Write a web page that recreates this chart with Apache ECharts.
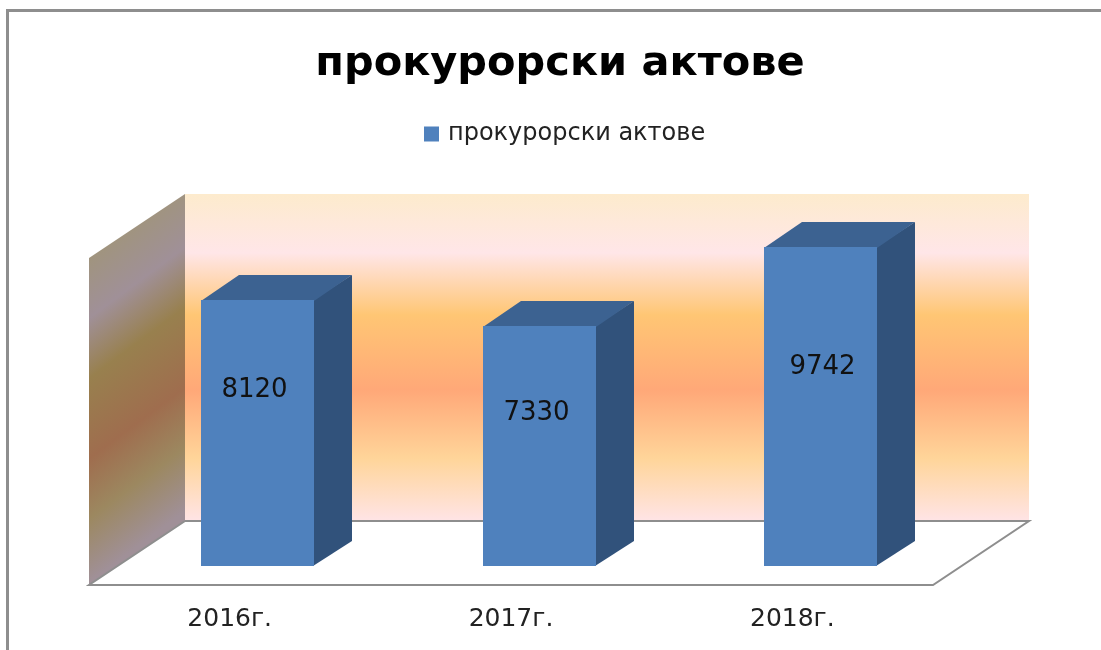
<!DOCTYPE html>
<html><head><meta charset="utf-8">
<style>html,body{margin:0;padding:0;background:#fff}#c{width:1101px;height:650px}</style>
<script src="https://cdn.jsdelivr.net/npm/echarts@6/dist/echarts.min.js"></script>
</head><body><div id="c"></div>
<script>
const titleText = 'прокурорски актове';
const seriesName = 'прокурорски актове';
const categories = ['2016г.', '2017г.', '2018г.'];
const values = [8120, 7330, 9742];

// layout of the 3D box (not data)
const wallDepth = [96, -64], barDepth = [38, -25], barShift = [28, -19], barRatio = 0.4;
const labelNudge = [[-3, -43], [-3, -33], [2, -39]];
const wallStops = [0, .18, .37, .6, .81, 1];
const wallColors = ['#FDEBCD', '#FFE6E8', '#FFC674', '#FFA878', '#FFD59A', '#FFE4E6'];
const sideStops = [0, .18, .36, .6, .78, .97];
const sideColors = ['#A0947E', '#A09098', '#98804E', '#9F6D4E', '#9C8860', '#A09098'];
const stops = (cs, at) => cs.map((color, i) => ({offset: at[i], color}));

const chart = echarts.init(document.getElementById('c'), null, {renderer: 'canvas'});

function renderWalls(params) {
  const r = params.coordSys;
  const [dx, dy] = wallDepth;
  const L = r.x, R = r.x + r.width, T = r.y, B = r.y + r.height;
  const line = {stroke: '#8E8E8E', lineWidth: 2, fill: null};
  return {type: 'group', silent: true, children: [
    {type: 'rect', shape: {x: L + dx, y: T + dy, width: r.width, height: r.height},
     style: {fill: new echarts.graphic.LinearGradient(0, 0, 0, 1, stops(wallColors, wallStops))}},
    {type: 'polygon', shape: {points: [[L, T], [L + dx, T + dy], [L + dx, B + dy], [L, B]]},
     style: {fill: new echarts.graphic.LinearGradient(L, T, L + 160, T + 216, stops(sideColors, sideStops), true)}},
    {type: 'polygon', shape: {points: [[L, B], [L + dx, B + dy], [R + dx, B + dy], [R, B]]},
     style: {fill: '#fff'}},
    {type: 'polyline', shape: {points: [[L + dx, B + dy], [R + dx, B + dy], [R, B], [L, B], [L + dx, B + dy]]}, style: line}
  ]};
}

function renderBar(params, api) {
  const idx = api.value(0);
  const top = api.coord([idx, api.value(1)]);
  const base = api.coord([idx, 0]);
  const w = Math.round(api.size([1, 0])[0] * barRatio);
  const x0 = Math.round(top[0] - w / 2 + barShift[0]), x1 = x0 + w;
  const y0 = Math.round(top[1] + barShift[1]), y1 = Math.round(base[1] + barShift[1]);
  const [dx, dy] = barDepth;
  const n = labelNudge[idx];
  return {type: 'group', children: [
    {type: 'polygon', shape: {points: [[x1 - 1, y0], [x1 + dx, y0 + dy], [x1 + dx, y1 + dy], [x1 - 1, y1]]}, style: {fill: '#31527B'}},
    {type: 'polygon', shape: {points: [[x0, y0 + 1], [x0 + dx, y0 + dy], [x1 + dx, y0 + dy], [x1, y0 + 1]]}, style: {fill: '#3C6291'}},
    {type: 'rect', shape: {x: x0, y: y0, width: w, height: y1 - y0}, style: {fill: '#4F81BD'}},
    {type: 'text', style: {text: String(api.value(1)), x: (x0 + x1) / 2 + n[0], y: (y0 + y1) / 2 + n[1],
      align: 'center', verticalAlign: 'middle', fill: '#111', font: '26px "DejaVu Sans"'}}
  ]};
}

chart.setOption({
  animation: false,
  backgroundColor: '#fff',
  title: {text: titleText, left: 555, top: 38, textAlign: 'center',
    textStyle: {fontFamily: 'DejaVu Sans', fontWeight: 'bold', fontSize: 41.5, color: '#000'}},
  legend: {data: [seriesName], left: 419, top: 117, icon: 'rect', itemWidth: 15, itemHeight: 15, itemGap: 9,
    selectedMode: false,
    textStyle: {fontFamily: 'DejaVu Sans', fontSize: 24, color: '#222', padding: [0, 0, 0, 4]}},
  grid: {left: 89, right: 168, top: 258, bottom: 65, containLabel: false},
  xAxis: {type: 'category', data: categories, axisLine: {show: false}, axisTick: {show: false},
    axisLabel: {margin: 22, fontFamily: 'DejaVu Sans', fontSize: 25, color: '#222'}},
  yAxis: {type: 'value', min: 0, max: 10000, show: false},
  graphic: [
    {type: 'line', shape: {x1: 6, y1: 10.5, x2: 1101, y2: 10.5}, style: {stroke: '#8E8E8E', lineWidth: 3}, silent: true},
    {type: 'line', shape: {x1: 7.5, y1: 10, x2: 7.5, y2: 650}, style: {stroke: '#8E8E8E', lineWidth: 3}, silent: true}
  ],
  series: [
    {type: 'custom', name: 'box', coordinateSystem: 'cartesian2d', z: 1, silent: true, tooltip: {show: false},
     renderItem: renderWalls, data: [[0, 0]], encode: {x: 0, y: 1}, clip: false},
    {type: 'custom', name: seriesName, coordinateSystem: 'cartesian2d', z: 2,
     itemStyle: {color: '#4F81BD'},
     renderItem: renderBar, clip: false,
     data: categories.map((c, i) => [i, values[i]]), encode: {x: 0, y: 1}}
  ]
});
</script></body></html>
